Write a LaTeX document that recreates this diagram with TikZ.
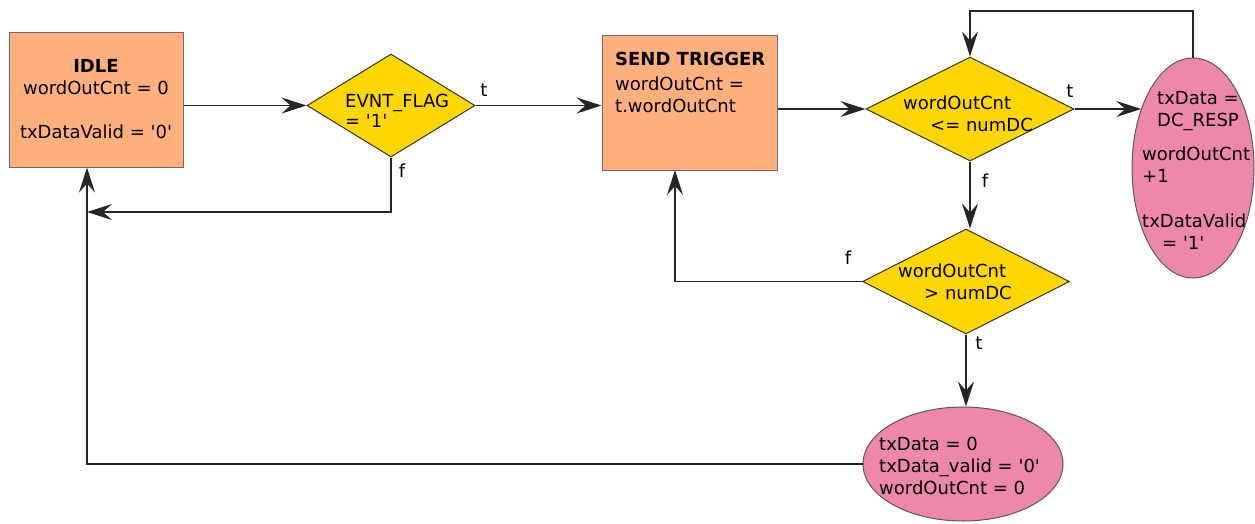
\documentclass[tikz,border=0pt]{standalone}
\usepackage{fontspec}
\setmainfont{DejaVu Sans}
\usetikzlibrary{arrows.meta,shapes.geometric}
\definecolor{boxorange}{HTML}{FFB07C}
\definecolor{decyellow}{HTML}{FFD700}
\definecolor{actpink}{HTML}{EE88AA}
\newcommand{\sq}{\textquotesingle}

\begin{document}
\begin{tikzpicture}[x=1pt,y=-1pt,>={Stealth[length=25pt,width=16pt,inset=9pt]},
	every node/.style={font=\fontsize{18}{22}\selectfont},
	statebox/.style={rectangle,draw=gray!85!black,fill=boxorange,line width=1pt,inner sep=0pt},
	decision/.style={diamond,draw=black!80,fill=decyellow,line width=1pt,inner sep=0pt},
	action/.style={ellipse,draw=black!65,fill=actpink,line width=1pt,inner sep=0pt},
	txt/.style={align=left,anchor=west,inner sep=0pt},
	arr/.style={->,draw=black!85,line width=1.5pt},
	flow/.style={draw=black!85,line width=1.5pt}]
	\useasboundingbox (0,0) rectangle (1255,523);

	% states
	\node[statebox,minimum width=174,minimum height=135,align=center] (idle) at (96,99.5)
		{\textbf{IDLE}\\wordOutCnt = 0\\[22pt]txDataValid = \sq0\sq};
	\node[statebox,minimum width=175,minimum height=135] (send) at (689.5,102.5) {};
	\node[txt] (sendtxt) at (615,82.5) {\textbf{SEND TRIGGER}\\[3pt]wordOutCnt =\\t.wordOutCnt};

	% decisions
	\node[decision,minimum width=168,minimum height=103] (d1) at (391,105.5) {};
	\node[txt] (d1txt) at (345,111) {EVNT\_FLAG\\[-2pt]= \sq1\sq};
	\node[decision,minimum width=208,minimum height=104] (d2) at (970,109) {};
	\node[txt] (d2txt) at (903,113.5) {wordOutCnt\\\hspace{27pt}<= numDC};
	\node[decision,minimum width=207,minimum height=105] (d3) at (966,281.5) {};
	\node[txt] (d3txt) at (898,281.5) {wordOutCnt\\\hspace{26pt}> numDC};

	% actions
	\node[action,minimum width=122,minimum height=220] (e1) at (1193,168) {};
	\node[txt] (e1txt) at (1142,170.5) {\hspace{15pt}txData =\\\hspace{15pt}DC\_RESP\\[12pt]
		wordOutCnt\\+1\\[23pt]txDataValid\\\hspace{20pt}= \sq1\sq};
	\node[action,minimum width=200,minimum height=114] (e2) at (963,464) {};
	\node[txt] (e2txt) at (879,466) {txData = 0\\txData\_valid = \sq0\sq\\wordOutCnt = 0};

	% branch labels
	\node (lt1) at (484,90) {t};
	\node (lf1) at (402,171) {f};
	\node (lt2) at (1070,91) {t};
	\node (lf2) at (985,181) {f};
	\node (lf3) at (848,258) {f};
	\node (lt3) at (979,343) {t};

	\coordinate (ret1) at (87,212);
	\coordinate (sendret) at (675,170);
	\coordinate (looptop) at (970,11);

	% connectors
	\draw[arr] (idle.east |- d1.west) -- (d1.west);
	\draw[arr] (d1.east) -- (d1.east -| send.west);
	\draw[arr] (send.east |- d2.west) -- (d2.west);
	\draw[arr] (d2.east) -- (d2.east -| e1.131);
	\draw[arr] (e1.north) |- (looptop) -- (d2.north);
	\draw[arr] (d2.south) -- (d2.south |- d3.north);
	\draw[arr] (d3.south) -- (d3.south |- e2.north);
	\draw[arr] (d3.west) -| (sendret);
	\draw[arr] (d1.south) |- (ret1);
	\draw[arr] (e2.west) -| (idle.south -| ret1);
\end{tikzpicture}
\end{document}
